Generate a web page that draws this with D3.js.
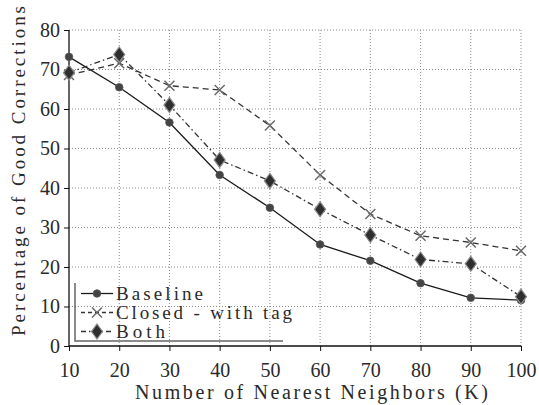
<!DOCTYPE html>
<html>
<head>
<meta charset="utf-8">
<script src="https://cdn.jsdelivr.net/npm/d3@7"></script>
<style>
  html, body { margin: 0; padding: 0; background: #fff; }
  svg { display: block; }
</style>
</head>
<body>
<svg id="chart" width="539" height="405"></svg>
<script>
// Neighbour counts on the x axis
const neighbors = [10, 20, 30, 40, 50, 60, 70, 80, 90, 100];
// Percentage of good corrections per method
const baseline   = [73.2, 65.5, 56.6, 43.3, 35.0, 25.7, 21.6, 15.9, 12.2, 11.6];
const closedTag  = [68.6, 71.6, 65.9, 64.8, 55.8, 43.3, 33.4, 27.9, 26.2, 24.1];
const both       = [69.2, 73.8, 61.0, 47.1, 41.8, 34.6, 28.1, 21.9, 20.8, 12.5];
const seriesNames = ["Baseline", "Closed - with tag", "Both"];
const yTicks = [0, 10, 20, 30, 40, 50, 60, 70, 80];
const xTitle = "Number of Nearest Neighbors (K)";
const yTitle = "Percentage of Good Corrections";

const FONT = '"Liberation Serif"';
const TEXT_COLOR = "#2a2a2a";
const svg = d3.select("#chart").style("font-family", FONT);
const plot = { left: 69, right: 521, top: 30, bottom: 346 };

const x = d3.scaleLinear().domain([10, 100]).range([plot.left, plot.right]);
const y = d3.scaleLinear().domain([0, 80]).range([plot.bottom, plot.top]);

// dotted grid
const grid = svg.append("g").attr("stroke", "#8a8a8a").attr("stroke-width", 1)
  .attr("stroke-dasharray", "1,2").attr("fill", "none");
grid.selectAll("line.v").data(neighbors.slice(1)).join("line")
  .attr("x1", d => x(d)).attr("x2", d => x(d))
  .attr("y1", plot.top).attr("y2", plot.bottom);
grid.selectAll("line.h").data(yTicks.slice(1)).join("line")
  .attr("x1", plot.left).attr("x2", plot.right)
  .attr("y1", d => y(d)).attr("y2", d => y(d));

// axes
const xAxis = d3.axisBottom(x).tickValues(neighbors).tickSize(5).tickPadding(4).tickFormat(d3.format("d"));
const yAxis = d3.axisLeft(y).tickValues(yTicks).tickSize(5).tickPadding(4).tickFormat(d3.format("d"));

const gx = svg.append("g").attr("transform", `translate(0,${plot.bottom})`).call(xAxis);
const gy = svg.append("g").attr("transform", `translate(${plot.left},0)`).call(yAxis);
[gx, gy].forEach(g => {
  g.attr("font-family", FONT).attr("font-size", 20);
  g.select(".domain").attr("stroke", "#111").attr("stroke-width", 1.3);
  g.selectAll(".tick line").attr("stroke", "#111").attr("stroke-width", 1);
  g.selectAll(".tick text").attr("fill", TEXT_COLOR);
});
gx.select(".domain").attr("d", `M${plot.left},0H${plot.right}`);
gy.select(".domain").attr("d", `M0,${plot.bottom}V${plot.top}`);
gx.selectAll(".tick text").attr("dy", null).attr("y", 31);

// line generators and styles per series
const line = d3.line().x((d, i) => x(neighbors[i])).y(d => y(d));
const styles = [
  { data: baseline,  stroke: "#1a1a1a", dash: null,          marker: "circle" },
  { data: closedTag, stroke: "#333",    dash: "6,4",         marker: "cross" },
  { data: both,      stroke: "#333",    dash: "6,3,1.5,3",   marker: "diamond" }
];

function drawMarker(g, type, cx, cy) {
  if (type === "circle") {
    g.append("circle").attr("cx", cx).attr("cy", cy).attr("r", 3.8)
      .attr("fill", "#444").attr("stroke", "#555").attr("stroke-width", 0.8);
  } else if (type === "cross") {
    const s = 5;
    g.append("path")
      .attr("d", `M${cx - s},${cy - s}L${cx + s},${cy + s}M${cx - s},${cy + s}L${cx + s},${cy - s}`)
      .attr("stroke", "#6a6a6a").attr("stroke-width", 1.5).attr("fill", "none");
  } else {
    const w = 5.5, h = 7.5;
    g.append("path")
      .attr("d", `M${cx},${cy - h}L${cx + w},${cy}L${cx},${cy + h}L${cx - w},${cy}Z`)
      .attr("fill", "#2f2f2f").attr("stroke", "#8a8a8a").attr("stroke-width", 1.2);
  }
}

styles.forEach(s => {
  svg.append("path").datum(s.data).attr("d", line)
    .attr("fill", "none").attr("stroke", s.stroke).attr("stroke-width", 1.3)
    .attr("stroke-dasharray", s.dash);
});
styles.forEach(s => {
  const g = svg.append("g");
  s.data.forEach((v, i) => drawMarker(g, s.marker, x(neighbors[i]), y(v)));
});

// legend
const legend = svg.append("g");
legend.append("path").attr("d", "M75,283V341H283")
  .attr("fill", "none").attr("stroke", "#666").attr("stroke-width", 1.5);
const rowY = [293.5, 312.5, 331.5];
const textLen = [87, 176, 49];
styles.forEach((s, i) => {
  legend.append("line").attr("x1", 81).attr("x2", 113)
    .attr("y1", rowY[i]).attr("y2", rowY[i])
    .attr("stroke", s.stroke).attr("stroke-width", 1.3)
    .attr("stroke-dasharray", i === 1 ? "4,3" : i === 2 ? "5,3,1.5,3" : null);
  drawMarker(legend, s.marker, 97, rowY[i]);
  legend.append("text").attr("x", 116).attr("y", rowY[i] + 6)
    .attr("textLength", textLen[i]).attr("lengthAdjust", "spacing")
    .attr("fill", TEXT_COLOR).style("font-family", FONT).style("font-size", "19px")
    .text(seriesNames[i]);
});

// axis titles
svg.append("text").attr("x", 135).attr("y", 399)
  .attr("textLength", 353).attr("lengthAdjust", "spacing")
  .attr("fill", TEXT_COLOR).style("font-family", FONT).style("font-size", "20px")
  .text(xTitle);
svg.append("text").attr("transform", "translate(25,336) rotate(-90)")
  .attr("textLength", 330).attr("lengthAdjust", "spacing")
  .attr("fill", TEXT_COLOR).style("font-family", FONT).style("font-size", "19px")
  .text(yTitle);
</script>
</body>
</html>
